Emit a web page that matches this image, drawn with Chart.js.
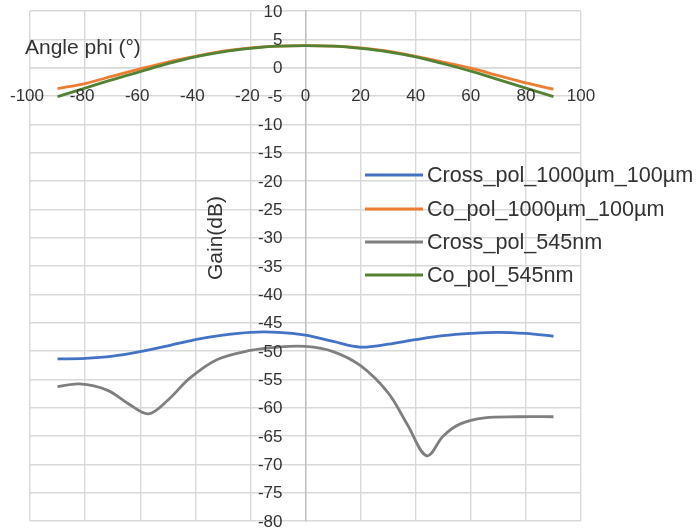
<!DOCTYPE html>
<html><head><meta charset="utf-8">
<script src="https://cdn.jsdelivr.net/npm/chart.js@4/dist/chart.umd.min.js"></script>
<style>html,body{margin:0;padding:0;background:#fff;overflow:hidden;}</style>
</head><body>
<canvas id="c" width="700" height="529"></canvas>
<script>
// ---- data ----
const xTickValues = [-100, -80, -60, -40, -20, 0, 20, 40, 60, 80, 100];
const yTickValues = [10, 5, 0, -5, -10, -15, -20, -25, -30, -35, -40, -45, -50, -55, -60, -65, -70, -75, -80];
const xTitle = "Angle phi (°)";
const yTitle = "Gain(dB)";
const seriesNames = ["Cross_pol_1000µm_100µm", "Co_pol_1000µm_100µm", "Cross_pol_545nm", "Co_pol_545nm"];

const anglesStd = [-90, -80, -70, -60, -50, -40, -30, -20, -10, 0, 10, 20, 30, 40, 50, 60, 70, 80, 90];
const crossPol1000 = [-51.4, -51.3, -50.9, -50.1, -49.1, -48.0, -47.2, -46.7, -46.7, -47.2, -48.3, -49.3, -48.8, -48.0, -47.3, -46.9, -46.7, -46.9, -47.4];
const coPol1000 = [-3.7, -2.8, -1.5, -0.2, 1.0, 2.0, 2.9, 3.5, 3.8, 3.9, 3.8, 3.5, 2.9, 2.0, 1.0, -0.1, -1.4, -2.7, -3.8];
const coPol545 = [-5.1, -3.6, -2.1, -0.7, 0.7, 1.9, 2.8, 3.4, 3.8, 3.9, 3.8, 3.4, 2.8, 1.9, 0.7, -0.6, -2.1, -3.6, -5.1];

const anglesCross545 = [-90, -82, -72, -64, -57, -50, -42, -32, -20, -10, 0, 10, 20, 30, 37, 44, 50, 56, 65, 77, 90];
const crossPol545 = [-56.3, -55.8, -56.9, -59.4, -61.1, -58.7, -54.8, -51.5, -49.9, -49.3, -49.2, -50.1, -52.6, -57.4, -63.0, -68.5, -65.0, -62.9, -61.8, -61.6, -61.6];

const colors = ["#4472C4", "#ED7D31", "#7F7F7F", "#548235"];

function pts(xs, ys) { return xs.map((x, i) => ({x: x, y: ys[i]})); }

const FONT = "'Liberation Sans', Arial, sans-serif";
const TEXT = "#333333";

const customText = {
  id: 'customText',
  afterDraw(chart) {
    const ctx = chart.ctx;
    const sx = chart.scales.x, sy = chart.scales.y;
    const x0 = sx.getPixelForValue(0), y0 = sy.getPixelForValue(0);
    ctx.save();
    ctx.fillStyle = TEXT;
    // tick labels
    ctx.font = "17px " + FONT;
    ctx.textBaseline = 'middle';
    ctx.textAlign = 'center';
    xTickValues.forEach(v => {
      const px = sx.getPixelForValue(v) + (v < 0 ? -3 : 0);
      ctx.fillText(String(v), px, y0 + 29);
    });
    ctx.textAlign = 'right';
    yTickValues.forEach(v => {
      ctx.fillText(String(v), x0 - 23, sy.getPixelForValue(v) + 1);
    });
    // x axis title
    ctx.font = "21px " + FONT;
    ctx.textAlign = 'left';
    ctx.textBaseline = 'alphabetic';
    ctx.fillText(xTitle, 25, 54);
    // y axis title
    ctx.save();
    ctx.translate(216, 238);
    ctx.rotate(-Math.PI / 2);
    ctx.textAlign = 'center';
    ctx.textBaseline = 'middle';
    ctx.fillText(yTitle, 0, 0);
    ctx.restore();
    // legend
    const rows = [175, 209, 242, 275];
    ctx.font = "21.6px " + FONT;
    ctx.textAlign = 'left';
    ctx.textBaseline = 'middle';
    chart.data.datasets.forEach((ds, i) => {
      ctx.strokeStyle = ds.borderColor;
      ctx.lineWidth = 3;
      ctx.beginPath();
      ctx.moveTo(365, rows[i]);
      ctx.lineTo(423, rows[i]);
      ctx.stroke();
      ctx.fillStyle = TEXT;
      ctx.fillText(ds.label, 427, rows[i] + 1);
    });
    ctx.restore();
  }
};

const datasets = [
  {label: seriesNames[0], data: pts(anglesStd, crossPol1000), borderColor: colors[0], order: 3},
  {label: seriesNames[1], data: pts(anglesStd, coPol1000), borderColor: colors[1], order: 2},
  {label: seriesNames[2], data: pts(anglesCross545, crossPol545), borderColor: colors[2], order: 1},
  {label: seriesNames[3], data: pts(anglesStd, coPol545), borderColor: colors[3], order: 0}
].map(d => Object.assign(d, {
  showLine: true, fill: false, pointRadius: 0, borderWidth: 2.8,
  tension: 0.35, backgroundColor: d.borderColor
}));

new Chart(document.getElementById('c'), {
  type: 'scatter',
  data: {datasets: datasets},
  options: {
    responsive: false,
    animation: false,
    layout: {padding: {left: 30, right: 119, top: 11, bottom: 8}},
    plugins: {legend: {display: false}, tooltip: {enabled: false}},
    scales: {
      x: {
        type: 'linear', min: -100, max: 100,
        position: {y: 0},
        afterBuildTicks: s => { s.ticks = xTickValues.map(v => ({value: v})); },
        grid: {color: '#d9d9d9', lineWidth: 1.4, drawTicks: false},
        border: {color: '#d9d9d9', width: 1.4},
        ticks: {display: false}
      },
      y: {
        type: 'linear', min: -80, max: 10,
        position: {x: 0},
        afterBuildTicks: s => { s.ticks = yTickValues.map(v => ({value: v})); },
        grid: {color: '#d9d9d9', lineWidth: 1.4, drawTicks: false},
        border: {color: '#bfbfbf', width: 1.4},
        ticks: {display: false}
      }
    }
  },
  plugins: [customText]
});
</script>
</body></html>
